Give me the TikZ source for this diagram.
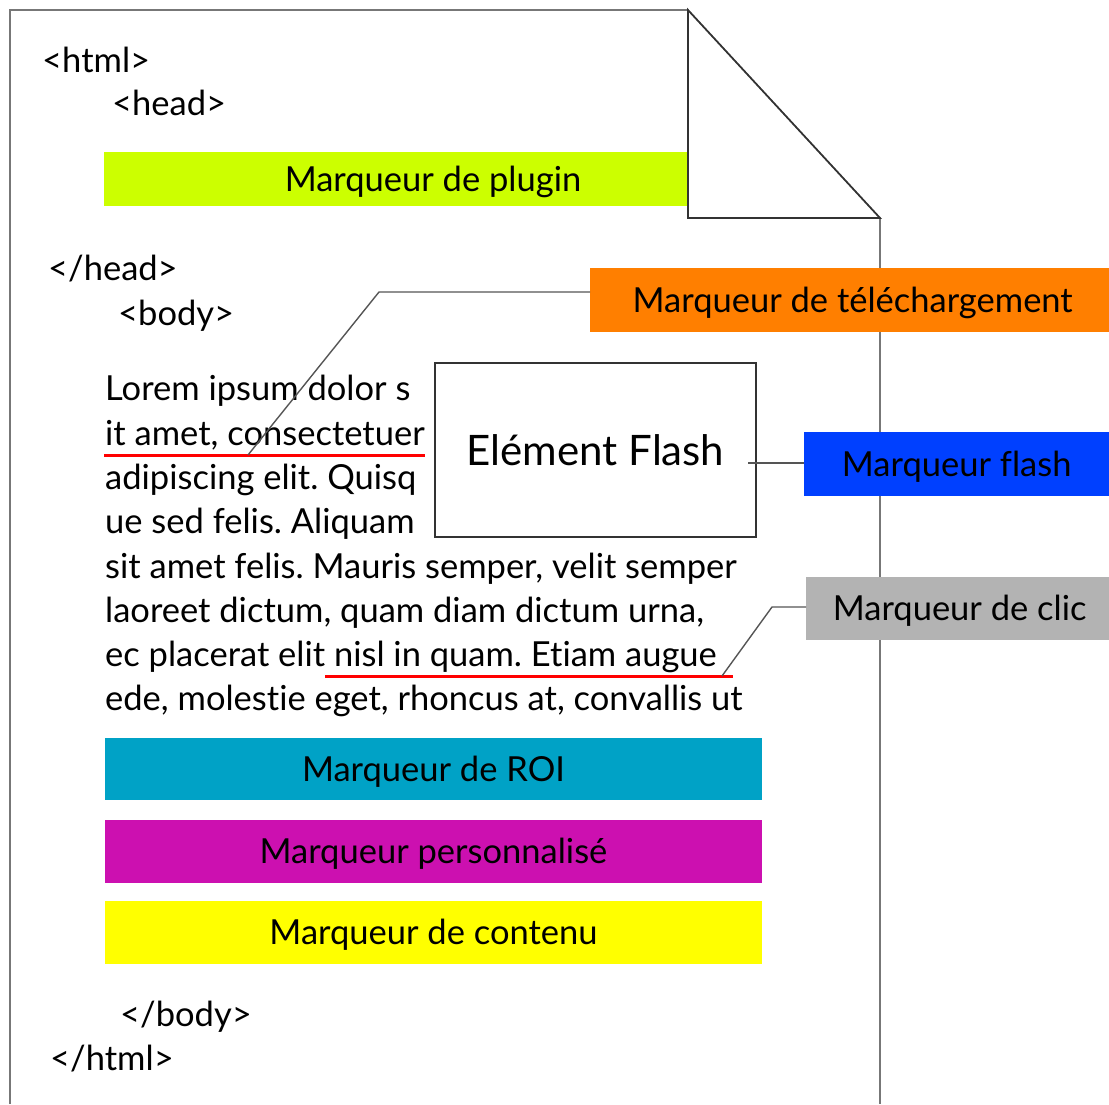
\documentclass[tikz,border=0pt]{standalone}
\usepackage{fontspec}
\setmainfont[Ligatures=NoCommon]{Lato}
\definecolor{cplug}{HTML}{CCFF00}
\definecolor{cdown}{HTML}{FF7F00}
\definecolor{cflash}{HTML}{0040FF}
\definecolor{cclic}{HTML}{B3B3B3}
\definecolor{croi}{HTML}{00A2C6}
\definecolor{cperso}{HTML}{CC10B0}
\definecolor{ccont}{HTML}{FFFF00}
\definecolor{cpage}{HTML}{777777}
\definecolor{cfold}{HTML}{333333}
\definecolor{cconn}{HTML}{555555}
\tikzset{
  txt/.style={anchor=base west, inner sep=0pt, font=\fontsize{34.5}{40}\selectfont},
  markbox/.style={draw=none, inner sep=0pt, font=\fontsize{34.5}{40}\selectfont, text height=24pt, text depth=0pt},
  conn/.style={draw=cconn, line width=1.4pt},
  uline/.style={draw=red, line width=3pt},
}
\frenchspacing
\begin{document}
\begin{tikzpicture}[x=1pt,y=-1pt]
\useasboundingbox (0,0) rectangle (1109,1104);
% page
\draw[cpage, line width=2.6pt] (10,1104) -- (10,10) -- (688,10);
\draw[cpage, line width=2.6pt] (880,218) -- (880,1104);
% plugin box (partly hidden by fold)
\node[markbox, fill=cplug, minimum width=658pt, minimum height=54pt] (plug) at (433,179) {Marqueur de plugin};
% fold
\filldraw[fill=white, draw=cfold, line width=1.8pt, line join=miter] (688,10) -- (880,218) -- (688,218) -- cycle;
% tags
\node[txt] (html) at (42,72) {<html>};
\node[txt] (head) at (112,115) {<head>};
\node[txt] (ehead) at (48,280) {</head>};
\node[txt] (body) at (118,325) {<body>};
\node[txt] (ebody) at (120,1026) {</body>};
\node[txt] (ehtml) at (50,1070) {</html>};
% lorem text
\node[txt] (l1) at (105,400) {Lorem ipsum dolor s};
\node[txt] (l2) at (105,445) {it amet, consectetuer};
\node[txt] (l3) at (105,489) {adipiscing elit. Quisq};
\node[txt] (l4) at (105,533) {ue sed felis. Aliquam};
\node[txt] (l5) at (105,578) {sit amet felis. Mauris semper, velit semper};
\node[txt] (l6) at (105,622) {laoreet dictum, quam diam dictum urna,};
\node[txt] (l7) at (105,666) {ec placerat elit nisl in quam. Etiam augue};
\node[txt] (l8) at (105,710) {ede, molestie eget, rhoncus at, convallis ut};
% flash element
\node[draw=cfold, line width=1.4pt, minimum width=321pt, minimum height=174pt, inner sep=0pt, font=\fontsize{42}{50}\selectfont, text height=30pt, text depth=0pt] (flash) at (595.5,450) {Elément Flash};
% underlines
\coordinate (u1a) at (104,455);
\coordinate (u1b) at (425,455);
\coordinate (u2a) at (325,676);
\coordinate (u2b) at (733,676);
\draw[uline] (u1a) -- (u1b);
\draw[uline] (u2a) -- (u2b);
% marker boxes
\node[markbox, fill=cdown, minimum width=519pt, minimum height=64pt, anchor=west] (down) at (590,300) {\hspace*{6pt}Marqueur de téléchargement};
\node[markbox, fill=cflash, minimum width=305pt, minimum height=64pt, anchor=west] (mflash) at (804,464) {Marqueur flash};
\node[markbox, fill=cclic, minimum width=303pt, minimum height=63pt, anchor=west] (clic) at (806,608) {\hspace*{4pt}Marqueur de clic};
\node[markbox, fill=croi, minimum width=657pt, minimum height=62pt] (roi) at (433.5,769) {Marqueur de ROI};
\node[markbox, fill=cperso, minimum width=657pt, minimum height=63pt] (perso) at (433.5,851.5) {Marqueur personnalisé};
\node[markbox, fill=ccont, minimum width=657pt, minimum height=63pt] (cont) at (433.5,932.5) {Marqueur de contenu};
% connectors
\coordinate (d1) at (379,292);
\coordinate (d2) at (248,455);
\draw[conn] (down.west |- d1) -- (d1) -- (d2);
\coordinate (f1) at (748,463);
\draw[conn] (f1) -- (mflash.west |- f1);
\coordinate (c1) at (772,607);
\coordinate (c2) at (722,676);
\draw[conn] (clic.west |- c1) -- (c1) -- (c2);
\end{tikzpicture}
\end{document}
